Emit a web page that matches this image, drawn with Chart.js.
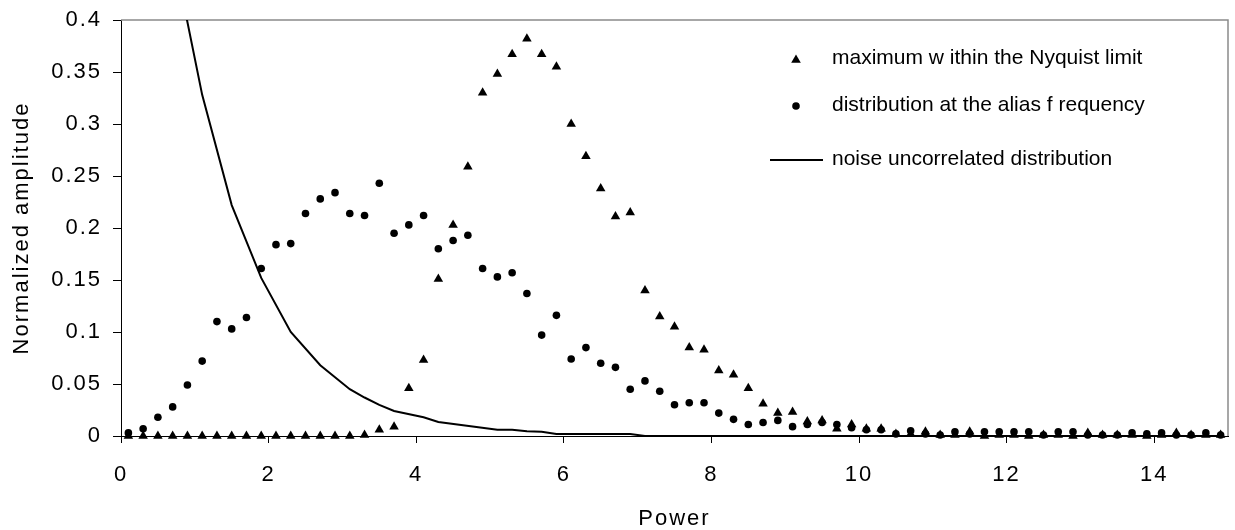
<!DOCTYPE html>
<html>
<head>
  <title>Normalized amplitude vs Power</title>
  <script src="https://cdn.jsdelivr.net/npm/chart.js@4.4.0/dist/chart.umd.min.js"></script>
  <style>
    html, body { margin: 0; padding: 0; background: #fff; }
    #wrap { width: 1235px; height: 530px; }
  </style>
</head>
<body>
<div id="wrap"><canvas id="powerChart"></canvas></div>
<script>
  // x positions shared by the two marker series
  var power = [0.1, 0.3, 0.5, 0.7, 0.9, 1.1, 1.3, 1.5, 1.7, 1.9,
    2.1, 2.3, 2.5, 2.7, 2.9, 3.1, 3.3, 3.5, 3.7, 3.9,
    4.1, 4.3, 4.5, 4.7, 4.9, 5.1, 5.3, 5.5, 5.7, 5.9,
    6.1, 6.3, 6.5, 6.7, 6.9, 7.1, 7.3, 7.5, 7.7, 7.9,
    8.1, 8.3, 8.5, 8.7, 8.9, 9.1, 9.3, 9.5, 9.7, 9.9,
    10.1, 10.3, 10.5, 10.7, 10.9, 11.1, 11.3, 11.5, 11.7, 11.9,
    12.1, 12.3, 12.5, 12.7, 12.9, 13.1, 13.3, 13.5, 13.7, 13.9,
    14.1, 14.3, 14.5, 14.7, 14.9];

  // triangles
  var maxNyquist = [0, 0, 0, 0, 0, 0, 0, 0, 0, 0, 0, 0, 0, 0, 0, 0,
    0.001, 0.006, 0.009, 0.046, 0.073, 0.151, 0.203, 0.259, 0.330, 0.348,
    0.367, 0.382, 0.367, 0.355, 0.300, 0.269, 0.238, 0.211, 0.215, 0.140,
    0.115, 0.105, 0.085, 0.083, 0.063, 0.059, 0.046, 0.031, 0.022, 0.023,
    0.014, 0.015, 0.007, 0.011, 0.007, 0.007, 0.002, 0.002, 0.004, 0.001,
    0.001, 0.004, 0, 0.001, 0.001, 0, 0.001, 0.001, 0, 0.003,
    0.001, 0.001, 0.001, 0, 0.001, 0.003, 0.001, 0.001, 0.001];

  // circles
  var aliasDist = [0.003, 0.007, 0.018, 0.028, 0.049, 0.072, 0.110, 0.103, 0.114, 0.161,
    0.184, 0.185, 0.214, 0.228, 0.234, 0.214, 0.212, 0.243, 0.195, 0.203,
    0.212, 0.180, 0.188, 0.193, 0.161, 0.153, 0.157, 0.137, 0.097, 0.116,
    0.074, 0.085, 0.070, 0.066, 0.045, 0.053, 0.043, 0.030, 0.032, 0.032,
    0.022, 0.016, 0.011, 0.013, 0.015, 0.009, 0.011, 0.013, 0.011, 0.008,
    0.006, 0.006, 0.002, 0.005, 0.002, 0.001, 0.004, 0.002, 0.004, 0.004,
    0.004, 0.004, 0.001, 0.004, 0.004, 0.001, 0.001, 0.001, 0.003, 0.002,
    0.003, 0.001, 0.001, 0.003, 0.001];

  // solid line
  var noisePower = [0.7, 1.1, 1.5, 1.9, 2.3, 2.7, 3.1, 3.3, 3.5, 3.7, 4.1, 4.3, 5.1, 5.3, 5.5, 5.7, 5.9, 6.9, 7.1, 14.9];
  var noiseAmp = [0.468, 0.328, 0.222, 0.152, 0.100, 0.068, 0.045, 0.037, 0.030, 0.024, 0.018, 0.0135, 0.006, 0.006, 0.0045, 0.004, 0.002, 0.002, 0, 0];

  var xTicks = [0, 2, 4, 6, 8, 10, 12, 14];
  var yTicks = [0, 0.05, 0.1, 0.15, 0.2, 0.25, 0.3, 0.35, 0.4];

  var seriesNames = ["maximum w ithin the Nyquist limit",
    "distribution at the alias f requency",
    "noise uncorrelated distribution"];

  var FONT = "'Liberation Sans', Arial, sans-serif";

  function pairs(xs, ys) {
    return xs.map(function (x, i) { return { x: x, y: ys[i] }; });
  }

  // the original axis text is a little wider than Arial, so space it out
  var spacingPlugin = {
    id: 'spacing',
    beforeDraw: function (chart) { chart.ctx.letterSpacing = '2px'; },
    afterDraw: function (chart) { chart.ctx.letterSpacing = '0px'; }
  };

  // gray frame on top and right of the plot area
  var framePlugin = {
    id: 'frame',
    beforeDatasetsDraw: function (chart) {
      var a = chart.chartArea, ctx = chart.ctx;
      ctx.save();
      ctx.strokeStyle = '#8a8a8a';
      ctx.lineWidth = 1.5;
      ctx.beginPath();
      ctx.moveTo(a.left, a.top);
      ctx.lineTo(a.right, a.top);
      ctx.lineTo(a.right, a.bottom);
      ctx.stroke();
      ctx.restore();
    }
  };

  // legend inside the plot, top right
  var legendPlugin = {
    id: 'innerLegend',
    afterDraw: function (chart) {
      var ctx = chart.ctx, a = chart.chartArea;
      var symX = a.right - 432, textX = a.right - 396;
      var rows = [59, 106, 160];
      ctx.save();
      ctx.letterSpacing = '0px';
      ctx.fillStyle = '#000';
      ctx.strokeStyle = '#000';
      // triangle
      ctx.beginPath();
      ctx.moveTo(symX, rows[0] - 4.5);
      ctx.lineTo(symX + 4.8, rows[0] + 3.8);
      ctx.lineTo(symX - 4.8, rows[0] + 3.8);
      ctx.closePath();
      ctx.fill();
      // circle
      ctx.beginPath();
      ctx.arc(symX, rows[1], 3.8, 0, Math.PI * 2);
      ctx.fill();
      // line
      ctx.lineWidth = 2;
      ctx.beginPath();
      ctx.moveTo(symX - 26, rows[2]);
      ctx.lineTo(symX + 27, rows[2]);
      ctx.stroke();
      ctx.font = '21px ' + FONT;
      ctx.textBaseline = 'middle';
      ctx.textAlign = 'left';
      for (var i = 0; i < seriesNames.length; i++) {
        ctx.fillText(seriesNames[i], textX, rows[i] - 1);
      }
      ctx.restore();
    }
  };

  var ctx = document.getElementById('powerChart').getContext('2d');
  var powerChart = new Chart(ctx, {
    type: 'scatter',
    data: {
      datasets: [
        {
          label: seriesNames[0],
          data: pairs(power, maxNyquist),
          pointStyle: 'triangle',
          pointRadius: 5.5,
          backgroundColor: '#000',
          borderWidth: 0,
          clip: false
        },
        {
          label: seriesNames[1],
          data: pairs(power, aliasDist),
          pointStyle: 'circle',
          pointRadius: 3.8,
          backgroundColor: '#000',
          borderWidth: 0,
          clip: false
        },
        {
          type: 'line',
          label: seriesNames[2],
          data: pairs(noisePower, noiseAmp),
          borderColor: '#000',
          borderWidth: 2,
          pointRadius: 0,
          tension: 0,
          fill: false,
          clip: { left: 0, top: 0, right: 0, bottom: 3 }
        }
      ]
    },
    options: {
      responsive: true,
      maintainAspectRatio: false,
      animation: false,
      layout: { padding: { left: 0, top: 20, right: 7, bottom: 0 } },
      plugins: {
        legend: { display: false },
        tooltip: { enabled: false }
      },
      scales: {
        x: {
          type: 'linear',
          min: 0,
          max: 15,
          afterBuildTicks: function (s) { s.ticks = xTicks.map(function (v) { return { value: v }; }); },
          afterFit: function (s) { s.height = 94; s.paddingLeft = 0; s.paddingRight = 0; },
          grid: { drawOnChartArea: false, tickLength: 7, tickColor: '#000' },
          border: { color: '#000', width: 1 },
          ticks: { color: '#000', font: { family: FONT, size: 22 }, padding: 19, maxRotation: 0, autoSkip: false },
          title: { display: true, text: 'Power', color: '#000', font: { family: FONT, size: 22 }, padding: { top: 0, bottom: -2 } }
        },
        y: {
          min: 0,
          max: 0.4,
          afterBuildTicks: function (s) { s.ticks = yTicks.map(function (v) { return { value: v }; }); },
          afterFit: function (s) { s.width = 121; s.paddingTop = 0; s.paddingBottom = 0; },
          grid: { drawOnChartArea: false, tickLength: 8, tickColor: '#000' },
          border: { color: '#000', width: 1 },
          ticks: {
            color: '#000', font: { family: FONT, size: 22 }, padding: 11, autoSkip: false,
            callback: function (v) { return String(+v.toFixed(2)); }
          },
          title: { display: true, text: 'Normalized amplitude', color: '#000', font: { family: FONT, size: 22 }, padding: { top: 9, bottom: 0 } }
        }
      }
    },
    plugins: [spacingPlugin, framePlugin, legendPlugin]
  });
</script>
</body>
</html>
